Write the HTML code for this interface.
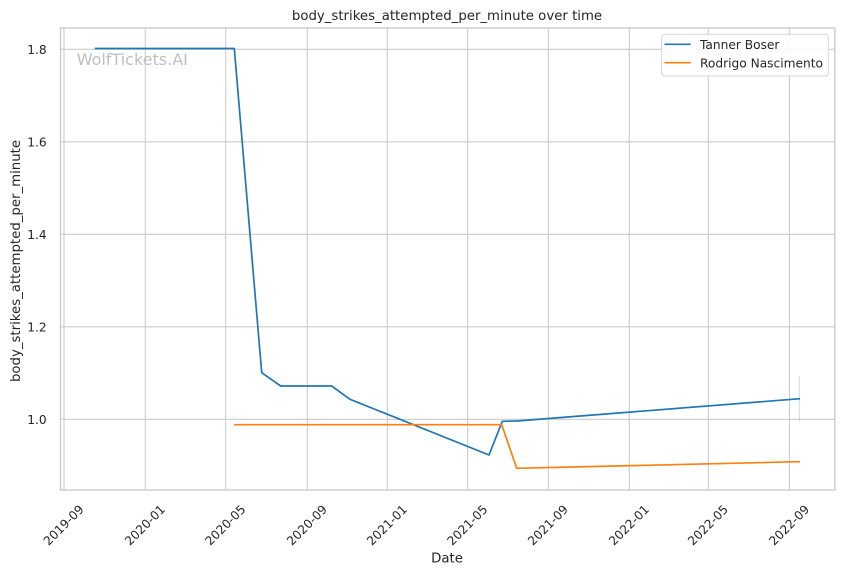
<!DOCTYPE html>
<html><head><meta charset="utf-8"><style>
html,body{margin:0;padding:0;background:#fff;}
svg{display:block;}
text{font-family:"DejaVu Sans","Liberation Sans",sans-serif;fill:#262626;}
</style></head><body>
<svg width="844" height="575" viewBox="0 0 844 575" xmlns="http://www.w3.org/2000/svg">
<rect x="0" y="0" width="844" height="575" fill="#fff"/>
<!-- grid -->
<g stroke="#cccccc" stroke-width="1.1" fill="none">
<line x1="64" y1="28" x2="64" y2="490"/>
<line x1="145.3" y1="28" x2="145.3" y2="490"/>
<line x1="225.7" y1="28" x2="225.7" y2="490"/>
<line x1="307.3" y1="28" x2="307.3" y2="490"/>
<line x1="387.3" y1="28" x2="387.3" y2="490"/>
<line x1="467.7" y1="28" x2="467.7" y2="490"/>
<line x1="548.3" y1="28" x2="548.3" y2="490"/>
<line x1="629.3" y1="28" x2="629.3" y2="490"/>
<line x1="708.3" y1="28" x2="708.3" y2="490"/>
<line x1="789.4" y1="28" x2="789.4" y2="490"/>
<line x1="60.5" y1="49.3" x2="834.8" y2="49.3"/>
<line x1="60.5" y1="141.8" x2="834.8" y2="141.8"/>
<line x1="60.5" y1="234.3" x2="834.8" y2="234.3"/>
<line x1="60.5" y1="326.8" x2="834.8" y2="326.8"/>
<line x1="60.5" y1="419.3" x2="834.8" y2="419.3"/>
</g>
<!-- watermark -->
<text x="76.7" y="65" font-size="16" style="fill:#bfbfbf">WolfTickets.AI</text>
<!-- series -->
<line x1="799.3" y1="376" x2="799.3" y2="421.7" stroke="#1f77b4" stroke-opacity="0.25" stroke-width="1"/>
<polyline fill="none" stroke="#1f77b4" stroke-width="1.7" stroke-linejoin="round" points="94.7,48.5 234.3,48.5 261.7,372.7 280.7,386 331.7,386 350,399.3 489,455 502.3,421.3 516.7,421 800,398.7"/>
<polyline fill="none" stroke="#ff7f0e" stroke-width="1.7" stroke-linejoin="round" points="234,424.7 501.7,424.7 516.7,468.3 800,461.7"/>
<!-- spines -->
<rect x="60.5" y="28" width="774.3" height="462" fill="none" stroke="#cccccc" stroke-width="1.4"/>
<!-- title -->
<text x="447" y="20" font-size="13.3" text-anchor="middle">body_strikes_attempted_per_minute over time</text>
<!-- y ticks -->
<g font-size="12.2" text-anchor="end">
<text x="46.7" y="53.8">1.8</text>
<text x="46.7" y="146.3">1.6</text>
<text x="46.7" y="238.8">1.4</text>
<text x="46.7" y="331.3">1.2</text>
<text x="46.7" y="423.8">1.0</text>
</g>
<!-- y label -->
<text transform="translate(20,261) rotate(-90)" x="0" y="0" font-size="13.3" text-anchor="middle">body_strikes_attempted_per_minute</text>
<!-- x ticks -->
<g font-size="12.2" text-anchor="middle">
<text transform="translate(63.5,525) rotate(-45)" x="0" y="4.4">2019-09</text>
<text transform="translate(144.8,525) rotate(-45)" x="0" y="4.4">2020-01</text>
<text transform="translate(225.2,525) rotate(-45)" x="0" y="4.4">2020-05</text>
<text transform="translate(306.8,525) rotate(-45)" x="0" y="4.4">2020-09</text>
<text transform="translate(386.8,525) rotate(-45)" x="0" y="4.4">2021-01</text>
<text transform="translate(467.2,525) rotate(-45)" x="0" y="4.4">2021-05</text>
<text transform="translate(547.8,525) rotate(-45)" x="0" y="4.4">2021-09</text>
<text transform="translate(628.8,525) rotate(-45)" x="0" y="4.4">2022-01</text>
<text transform="translate(707.8,525) rotate(-45)" x="0" y="4.4">2022-05</text>
<text transform="translate(789,525) rotate(-45)" x="0" y="4.4">2022-09</text>
</g>
<!-- x label -->
<text x="447" y="562.7" font-size="13.3" text-anchor="middle">Date</text>
<!-- legend -->
<rect x="661.7" y="34.3" width="166.6" height="41.7" rx="3" ry="3" fill="#ffffff" fill-opacity="0.85" stroke="#d6d6d6" stroke-width="1"/>
<line x1="664.5" y1="44.3" x2="690.7" y2="44.3" stroke="#1f77b4" stroke-width="1.7"/>
<line x1="664.5" y1="62.7" x2="690.7" y2="62.7" stroke="#ff7f0e" stroke-width="1.7"/>
<g font-size="12.2">
<text x="700" y="49">Tanner Boser</text>
<text x="700" y="67.7">Rodrigo Nascimento</text>
</g>
</svg>
</body></html>
